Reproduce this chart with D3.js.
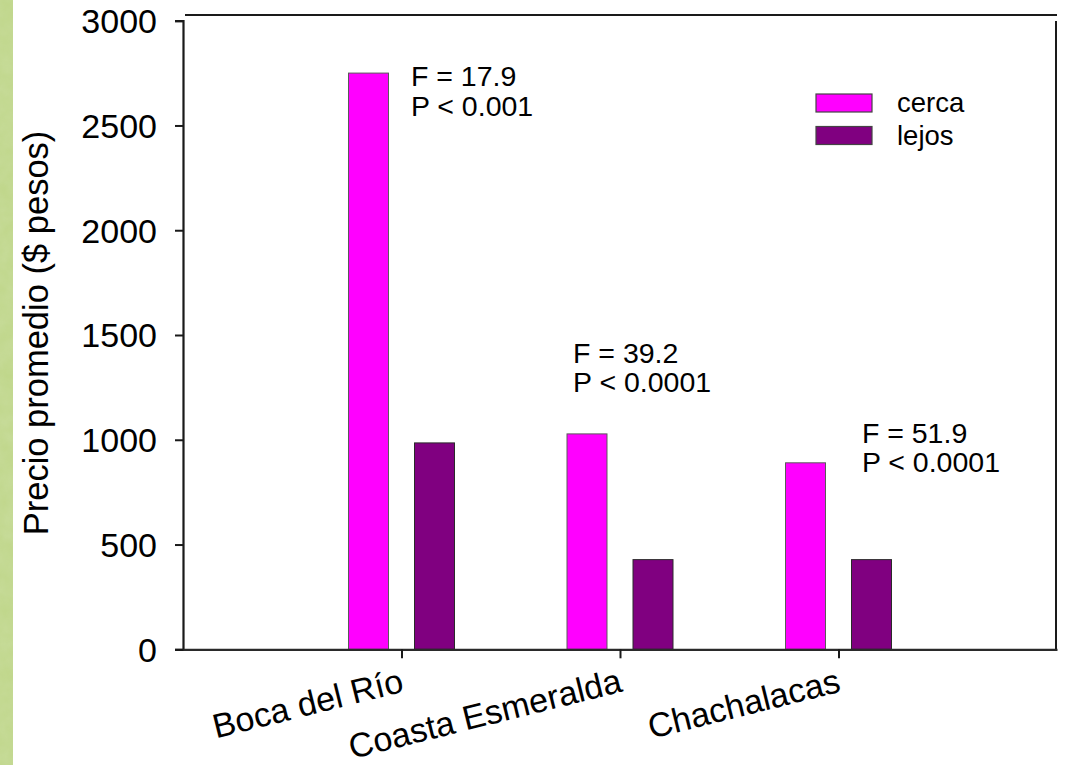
<!DOCTYPE html>
<html>
<head>
<meta charset="utf-8">
<script src="https://cdn.jsdelivr.net/npm/d3@7"></script>
<style>
  html, body { margin: 0; padding: 0; background: #ffffff; }
  svg { display: block; }
  text { font-family: "Liberation Sans", Arial, sans-serif; fill: #000; }
</style>
</head>
<body>
<svg id="chart" width="1068" height="765"></svg>
<script>
// Sites (x categories) and series
const sites = ["Boca del Río", "Coasta Esmeralda", "Chachalacas"];
const seriesNames = ["cerca", "lejos"];
const cercaValues = [2750, 1028, 890];
const lejosValues = [985, 428, 428];
const yTicks = [0, 500, 1000, 1500, 2000, 2500, 3000];
const yLabel = "Precio promedio ($ pesos)";

// Statistical test results shown beside each site
const statF = ["F = 17.9", "F = 39.2", "F = 51.9"];
const statP = ["P < 0.001", "P < 0.0001", "P < 0.0001"];

const colors = { cerca: "#ff00ff", lejos: "#800080" };

const svg = d3.select("#chart");

// textured green strip on the left edge
const defs = svg.append("defs");
const f = defs.append("filter").attr("id", "mottle").attr("x", 0).attr("y", 0).attr("width", 1).attr("height", 1);
f.append("feTurbulence").attr("type", "fractalNoise").attr("baseFrequency", 0.06).attr("numOctaves", 3).attr("seed", 4).attr("result", "n");
f.append("feColorMatrix").attr("in", "n").attr("type", "matrix")
  .attr("values", "0 0 0 0 0.66  0 0 0 0 0.78  0 0 0 0 0.46  0 0 0 0.9 0").attr("result", "c");
f.append("feComposite").attr("in", "c").attr("in2", "SourceGraphic").attr("operator", "in");
svg.append("rect").attr("x", 0).attr("y", 0).attr("width", 13).attr("height", 765).attr("fill", "#bfd689");
svg.append("rect").attr("x", 0).attr("y", 0).attr("width", 13).attr("height", 765).attr("fill", "#bfd689")
  .attr("filter", "url(#mottle)").attr("opacity", 0.45);

// scales
const x = d3.scaleLinear().domain([0, 4]).range([183, 1057]);
const y = d3.scaleLinear().domain([0, 3000]).range([649.3, 20.7]);
const sub = d3.scaleBand().domain(seriesNames).range([-53, 53]).paddingInner(0.394);

const rows = sites.map((s, i) => ({ site: s, pos: i + 1, cerca: cercaValues[i], lejos: lejosValues[i] }));

// bars
const groups = svg.append("g").selectAll("g").data(rows).join("g")
  .attr("transform", d => `translate(${x(d.pos)},0)`);
groups.selectAll("rect").data(d => seriesNames.map(k => ({ key: k, value: d[k] }))).join("rect")
  .attr("x", d => sub(d.key))
  .attr("width", sub.bandwidth())
  .attr("y", d => y(d.value))
  .attr("height", d => y(0) - y(d.value))
  .attr("fill", d => colors[d.key])
  .attr("stroke", d => d.key === "cerca" ? "#5a5a5a" : "#2a2a2a")
  .attr("stroke-width", 1);

// frame lines
const frame = svg.append("g").attr("stroke", "#1a1a1a").attr("stroke-width", 2).attr("fill", "none");
frame.append("line").attr("x1", 185).attr("x2", 1057).attr("y1", 15).attr("y2", 15);
frame.append("line").attr("x1", 1056).attr("x2", 1056).attr("y1", 21).attr("y2", y(0));

// y axis
const yAxis = svg.append("g").attr("transform", `translate(${x(0)},0)`)
  .call(d3.axisLeft(y).tickValues(yTicks).tickSize(8).tickPadding(18).tickFormat(d3.format("d")));
yAxis.select(".domain").attr("stroke", "#1a1a1a").attr("stroke-width", 2.2);
yAxis.selectAll(".tick line").attr("stroke", "#1a1a1a").attr("stroke-width", 2);
yAxis.selectAll(".tick text").attr("font-size", 34).attr("font-family", "Liberation Sans, Arial, sans-serif")
  .attr("fill", "#000").attr("dy", "0.35em");

// x axis
const xAxis = svg.append("g").attr("transform", `translate(0,${y(0)})`)
  .call(d3.axisBottom(x).tickValues([1, 2, 3]).tickSize(9).tickSizeOuter(0).tickFormat((d, i) => sites[i]));
xAxis.select(".domain").attr("stroke", "#2a2a2a").attr("stroke-width", 2.2);
xAxis.selectAll(".tick line").attr("stroke", "#1a1a1a").attr("stroke-width", 2);
xAxis.selectAll(".tick text")
  .attr("font-size", 34).attr("font-family", "Liberation Sans, Arial, sans-serif").attr("fill", "#000")
  .attr("text-anchor", "end").attr("dy", null).attr("y", 0)
  .attr("transform", "translate(3,42) rotate(-14)");

// y axis title
svg.append("text")
  .attr("transform", "translate(48,333) rotate(-90)")
  .attr("text-anchor", "middle")
  .attr("font-size", 34.5)
  .text(yLabel);

// statistics annotations, placed in data units
const statPos = [[1.043, 2688], [1.785, 1367], [3.107, 985]];
const notes = svg.append("g").attr("font-size", 28.5);
statF.forEach((t, i) => {
  const tx = x(statPos[i][0]), ty = y(statPos[i][1]);
  notes.append("text").attr("x", tx).attr("y", ty).text(t);
  notes.append("text").attr("x", tx).attr("y", ty + 29.5).text(statP[i]);
});

// legend
const legend = svg.append("g").attr("transform", "translate(816,94)");
seriesNames.forEach((k, i) => {
  const g = legend.append("g").attr("transform", `translate(0,${i * 32.5})`);
  g.append("rect").attr("width", 56).attr("height", 18)
    .attr("fill", colors[k]).attr("stroke", "#444").attr("stroke-width", 1.2);
  g.append("text").attr("x", 81).attr("y", 18).attr("font-size", 27.5).text(k);
});
</script>
</body>
</html>
